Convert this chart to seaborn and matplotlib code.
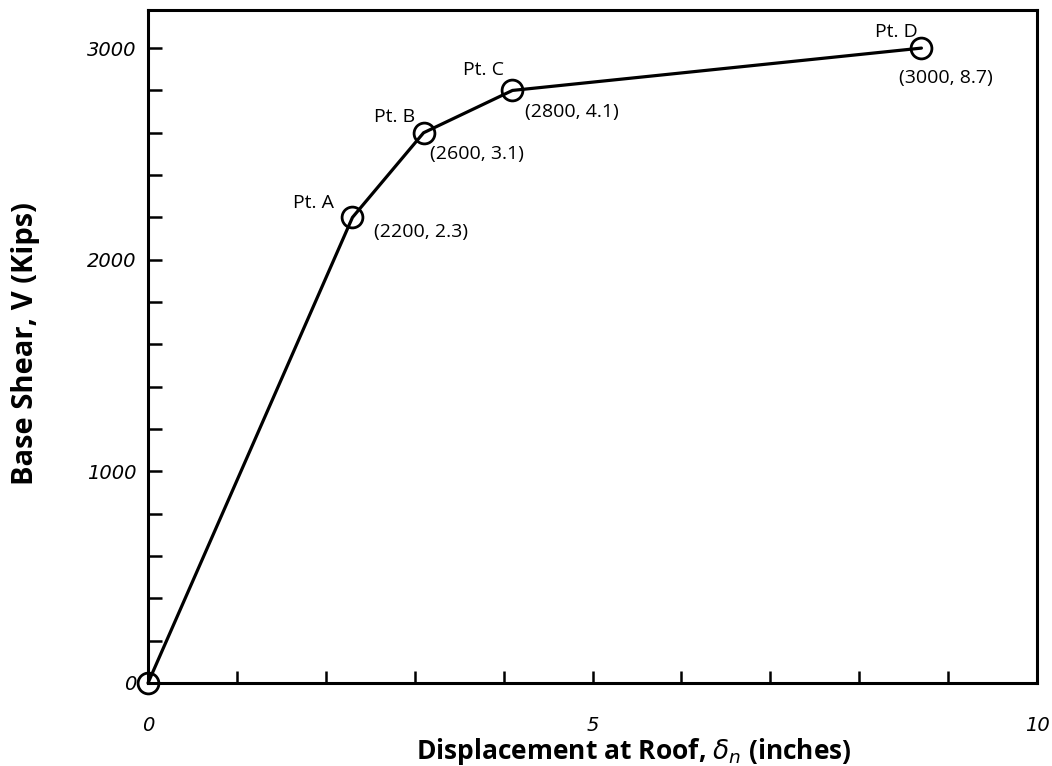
import numpy as np
import pandas as pd
import matplotlib
matplotlib.use("Agg")
import matplotlib.pyplot as plt
import seaborn as sns

# Data
displacement = [0.0, 2.3, 3.1, 4.1, 8.7]
base_shear = [0, 2200, 2600, 2800, 3000]
point_names = ["", "Pt. A", "Pt. B", "Pt. C", "Pt. D"]
coord_labels = ["", "(2200, 2.3)", "(2600, 3.1)", "(2800, 4.1)", "(3000, 8.7)"]
x_major = [0, 5, 10]
y_major = [0, 1000, 2000, 3000]

sns.set_theme(style="white")
plt.rcParams['font.family'] = ['Open Sans', 'DejaVu Sans']
plt.rcParams['mathtext.fontset'] = 'dejavusans'
plt.rcParams['text.color'] = 'black'
plt.rcParams['axes.labelcolor'] = 'black'
plt.rcParams['xtick.color'] = 'black'
plt.rcParams['ytick.color'] = 'black'

fig = plt.figure(figsize=(10.52, 7.66), dpi=100)
ax = fig.add_axes([148/1052, 1-683/766, (1037-148)/1052, (683-10)/766])

df = pd.DataFrame({"x": displacement, "y": base_shear})
sns.lineplot(data=df, x="x", y="y", ax=ax, color="black", linewidth=2.3,
             sort=False, marker="o", markersize=15, markerfacecolor="none",
             markeredgecolor="black", markeredgewidth=2.0, clip_on=False)

ax.set_xlim(0, 10)
ax.set_ylim(0, 3180)

ax.set_xticks(x_major)
ax.set_xticks(np.arange(0, 11, 1), minor=True)
ax.set_yticks(y_major)
ax.set_yticks(np.arange(0, 3200, 200), minor=True)
tick_font = dict(family=["DejaVu Sans"], style="italic", size=14, color="black")
ax.set_xticklabels([str(v) for v in x_major], fontdict=tick_font)
ax.set_yticklabels([str(v) for v in y_major], fontdict=tick_font)

ax.tick_params(axis="both", which="both", direction="in", top=False, right=False,
               bottom=True, left=True, width=1.8, color="black")
ax.tick_params(axis="y", which="both", length=10, pad=8)
ax.tick_params(axis="x", which="both", length=9, pad=24)

for s in ax.spines.values():
    s.set_linewidth(2.2)
    s.set_color("black")

ax.set_xlabel(r"Displacement at Roof, $\delta_n$ (inches)", fontsize=19,
              fontweight="bold", color="black")
ax.xaxis.set_label_coords((634-148)/889, (683-736)/673)
ax.set_ylabel("Base Shear, V (Kips)", fontsize=21, fontweight="bold", color="black")
ax.yaxis.set_label_coords((40-148)/889, 0.505)

name_offsets = [None, (-18, 14), (-8, 16), (-8, 20), (-4, 16)]
coord_offsets = [None, (22, -15), (6, -21), (13, -22), (-22, -30)]
for i in range(1, len(displacement)):
    ax.annotate(point_names[i], (displacement[i], base_shear[i]),
                textcoords="offset pixels", xytext=name_offsets[i],
                ha="right", va="center", fontsize=14, color="black")
    ax.annotate(coord_labels[i], (displacement[i], base_shear[i]),
                textcoords="offset pixels", xytext=coord_offsets[i],
                ha="left", va="center", fontsize=14, color="black")

fig.savefig("out.png", dpi=100)
